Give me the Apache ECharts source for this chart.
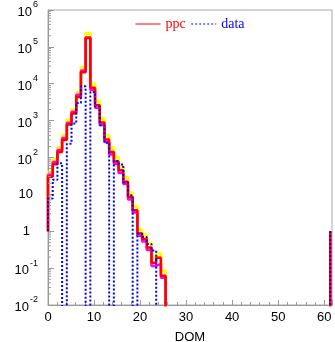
<!DOCTYPE html>
<html>
<head>
<meta charset="utf-8">
<script src="https://cdn.jsdelivr.net/npm/echarts@6/dist/echarts.min.js"></script>
<style>html,body{margin:0;padding:0;background:#fff;}#c{width:335px;height:342px;}</style>
</head>
<body>
<div id="c"></div>
<script>
// DOM bins (index of each histogram bin); bins beyond the list are empty
const domBins = [0,1,2,3,4,5,6,7,8,9,10,11,12,13,14,15,16,17,18,19,20,21,22,23,24];
const nBins = 60;
const binWidth = 1.022;
// ppc (simulation) charge per DOM
const ppc     = [30, 66, 140, 300, 780, 1550, 4400, 20500, 175000, 7800, 2600, 890, 310, 142, 78, 45, 22, 8.5, 3.7, 0.87, 0.62, 0.36, 0.14, 0.19, 0.062];
// upper (yellow) and lower (magenta) variations of ppc
const ppcHigh = [40, 88, 185, 400, 1050, 2000, 5800, 28000, 235000, 10000, 3400, 1150, 400, 185, 100, 60, 29, 11, 4.8, 1.1, 0.8, 0.48, 0.19, 0.25, 0.085];
const ppcLow  = [34, 75, 160, 340, 880, 1750, 5000, 23000, 180000, 6800, 2250, 760, 265, 120, 67, 38, 19, 7.3, 3.2, 0.75, 0.53, 0.31, 0.115, 0.13, 0.055];
// measured data charge per DOM (0 = empty bin)
const data    = [7.7, 25, 70, 0, 235, 830, 3000, 8500, 0, 6000, 2400, 750, 250, 0, 80, 65, 21, 9.5, 0, 0.87, 0.7, 0.45, 0.3, 0, 0];
const xTickLabels = [0, 10, 20, 30, 40, 50, 60];
const yExponents = [-2, -1, 0, 1, 2, 3, 4, 5, 6];
const yMinorMultipliers = [2, 3, 4, 5, 6, 7, 8, 9];

const baseline = 1;     // histogram outline starts/ends at this level
const offScale = 1e-4;  // empty bins fall below the axis minimum and are clipped

function stepPoints(vals) {
  const pts = [[0, baseline]];
  for (let k = 0; k < nBins; k++) {
    const v = (k < vals.length && vals[k] > 0) ? vals[k] : offScale;
    pts.push([k * binWidth, v]);
    pts.push([(k + 1) * binWidth, v]);
  }
  pts.push([nBins * binWidth, baseline]);
  return pts;
}

const yMinor = [];
yExponents.slice(0, -1).forEach(e => yMinorMultipliers.forEach(m => yMinor.push(m * Math.pow(10, e))));

const chart = echarts.init(document.getElementById('c'), null, {renderer: 'canvas'});
const axisColor = '#999';
const sans = 'Liberation Sans, Arial, sans-serif';

chart.setOption({
  animation: false,
  backgroundColor: '#fff',
  grid: {left: 48, right: 3, top: 10, bottom: 37, show: true, borderColor: '#aaa', borderWidth: 1,
         containLabel: false, outerBoundsMode: 'none'},
  legend: {
    left: 130, top: 12, itemWidth: 25, itemHeight: 8, itemGap: 5,
    lineStyle: {width: 1},
    itemStyle: {opacity: 0},
    textStyle: {fontFamily: 'Liberation Serif, Times New Roman, serif', fontSize: 14},
    data: [
      {name: 'ppc', textStyle: {color: '#ff0000'}},
      {name: 'data', textStyle: {color: '#0000ff'}}
    ]
  },
  xAxis: {
    type: 'value', min: 0, max: 61.7, interval: 10,
    name: 'DOM', nameLocation: 'middle', nameGap: 26,
    nameTextStyle: {fontFamily: sans, fontSize: 13, color: '#000'},
    axisLine: {show: true, onZero: false, lineStyle: {color: axisColor}},
    axisTick: {show: true, inside: true, length: 5, lineStyle: {color: axisColor}},
    minorTick: {show: true, splitNumber: 5, length: 3, lineStyle: {color: axisColor}},
    splitLine: {show: false},
    axisLabel: {
      margin: 6, fontFamily: sans, fontSize: 13, color: '#000', showMaxLabel: false,
      formatter: v => xTickLabels.indexOf(Math.round(v * 1000) / 1000) >= 0 ? String(Math.round(v)) : ''
    }
  },
  yAxis: {
    type: 'log', logBase: 10, min: 0.01, max: 1e6, splitNumber: 8,
    name: 'charge', nameLocation: 'middle', nameGap: 37,
    nameTextStyle: {fontFamily: sans, fontSize: 12, color: '#000', padding: [0, 0, 14, 14]},
    axisLine: {show: true, lineStyle: {color: axisColor}},
    axisTick: {show: true, inside: true, length: 6, lineStyle: {color: axisColor}},
    splitLine: {show: false},
    axisLabel: {
      margin: 10, color: '#000', fontFamily: sans,
      formatter: v => {
        const e = Math.round(Math.log10(v));
        if (e === 0) return '{p0|1}';
        if (e === 1) return '{p1|10}';
        return '{b|10}{e|' + e + '}';
      },
      rich: {
        b: {fontSize: 13, fontFamily: sans, color: '#000', padding: [5, 0, 0, 0]},
        e: {fontSize: 9, fontFamily: sans, color: '#000', padding: [0, 0, 10, 1]},
        p0: {fontSize: 13, fontFamily: sans, color: '#000', padding: [0, 8, 0, 0]},
        p1: {fontSize: 13, fontFamily: sans, color: '#000', padding: [0, 5, 0, 0]}
      }
    }
  },
  series: [
    {
      name: 'yMinorTicks', type: 'custom', silent: true, z: 5, clip: false,
      data: yMinor.map(v => [0, v]),
      renderItem: (params, api) => {
        const p = api.coord([0, api.value(1)]);
        return {type: 'line', shape: {x1: p[0], y1: p[1], x2: p[0] + 3, y2: p[1]}, style: {stroke: axisColor, lineWidth: 1}};
      }
    },
    {
      name: 'ppc high', type: 'line', data: stepPoints(ppcHigh), symbol: 'none', clip: true, z: 2,
      itemStyle: {color: '#ffff00'}, lineStyle: {color: '#ffff00', width: 3}
    },
    {
      name: 'ppc low', type: 'line', data: stepPoints(ppcLow), symbol: 'none', clip: true, z: 3,
      itemStyle: {color: '#ff00ff'}, lineStyle: {color: '#ff00ff', width: 2.5}
    },
    {
      name: 'ppc', type: 'line', data: stepPoints(ppc), symbol: 'none', clip: true, z: 4,
      itemStyle: {color: '#ff0000'}, lineStyle: {color: '#ff0000', width: 2.5}
    },
    {
      name: 'data', type: 'line', data: stepPoints(data), symbol: 'none', clip: true, z: 6,
      itemStyle: {color: '#0000ff'}, lineStyle: {color: '#0000ff', width: 2, type: [2, 2]}
    }
  ]
});
</script>
</body>
</html>
